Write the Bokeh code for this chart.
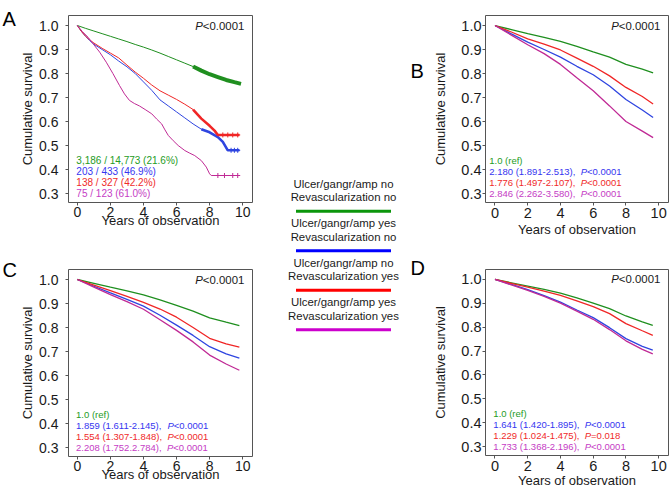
from bokeh.plotting import figure
from bokeh.layouts import row, column
from bokeh.models import FixedTicker, NumeralTickFormatter, ColumnDataSource, Range1d
from bokeh.core.properties import value
from bokeh.embed import file_html
from bokeh.resources import INLINE

FONT = "Liberation Sans"

# ---------------- data ----------------
PANEL_LETTERS = ["A", "B", "C", "D"]
LEGEND_LINE1 = ["Ulcer/gangr/amp no", "Ulcer/gangr/amp yes", "Ulcer/gangr/amp no", "Ulcer/gangr/amp yes"]
LEGEND_LINE2 = ["Revascularization no", "Revascularization no", "Revascularization yes", "Revascularization yes"]

X_TICKS = [0, 2, 4, 6, 8, 10]
Y_TICKS = [0.3, 0.4, 0.5, 0.6, 0.7, 0.8, 0.9, 1.0]
X_LABEL = "Years of observation"
Y_LABEL = "Cumulative survival"
P_OVERALL = "<0.0001"

# Panel A (Kaplan-Meier)
A_green_t = [0, 0.5, 1, 1.5, 2, 2.5, 3, 3.5, 4, 4.5, 5, 5.5, 6, 6.5, 7, 7.5, 8, 8.5, 9, 9.5, 9.9]
A_green_s = [1.0, 0.988, 0.977, 0.966, 0.955, 0.944, 0.933, 0.921, 0.91, 0.898, 0.885, 0.871, 0.857,
             0.843, 0.829, 0.812, 0.797, 0.785, 0.773, 0.764, 0.757]
A_blue_t = [0, 0.25, 0.5, 0.75, 1.0, 1.5, 2.0, 2.5, 3.0, 3.5, 4.0, 4.5, 5.0, 5.5, 6.0, 6.5, 7.0, 7.5,
            8.0, 8.5, 8.8, 9.1, 9.8]
A_blue_s = [1.0, 0.975, 0.955, 0.937, 0.922, 0.9, 0.878, 0.852, 0.828, 0.8, 0.765, 0.73, 0.69, 0.665,
            0.64, 0.615, 0.59, 0.568, 0.555, 0.535, 0.515, 0.48, 0.48]
A_red_t = [0, 0.25, 0.5, 0.75, 1.0, 1.5, 2.0, 2.5, 3.0, 3.5, 4.0, 4.5, 5.0, 5.5, 6.0, 6.5, 7.0, 7.5,
           8.0, 8.3, 8.5, 9.8]
A_red_s = [1.0, 0.975, 0.955, 0.94, 0.927, 0.905, 0.885, 0.865, 0.835, 0.806, 0.78, 0.752, 0.728,
           0.71, 0.692, 0.672, 0.65, 0.612, 0.582, 0.562, 0.544, 0.544]
A_mag_t = [0, 0.3, 0.65, 0.95, 1.35, 1.75, 2.15, 2.55, 2.85, 3.15, 3.45, 3.75, 4.1, 4.5, 4.8, 5.1,
           5.3, 5.5, 5.8, 6.1, 6.5, 6.8, 7.1, 7.5, 7.8, 8.0, 8.1, 9.8]
A_mag_s = [1.0, 0.975, 0.951, 0.924, 0.889, 0.847, 0.8, 0.75, 0.715, 0.688, 0.675, 0.665, 0.65,
           0.632, 0.61, 0.59, 0.565, 0.542, 0.52, 0.5, 0.479, 0.468, 0.458, 0.437, 0.41, 0.382,
           0.375, 0.375]
A_censor_t = {"blue": [9.3, 9.5, 9.7], "red": [8.8, 9.1, 9.4, 9.7], "mag": [8.5, 8.9, 9.4, 9.7]}
A_notes = ["3,186 / 14,773 (21.6%)", "203 / 433 (46.9%)", "138 / 327 (42.2%)", "75 / 123 (61.0%)"]

# Panel B (adjusted)
B_t = [0, 1, 2, 3, 4, 5, 6, 7, 8, 9, 9.66]
B_green = [1.0, 0.983, 0.966, 0.951, 0.934, 0.913, 0.89, 0.868, 0.838, 0.818, 0.803]
B_blue = [1.0, 0.965, 0.931, 0.9, 0.868, 0.83, 0.795, 0.748, 0.692, 0.648, 0.617]
B_red = [1.0, 0.973, 0.944, 0.922, 0.898, 0.864, 0.83, 0.79, 0.742, 0.704, 0.673]
B_mag = [1.0, 0.96, 0.92, 0.883, 0.838, 0.782, 0.728, 0.665, 0.6, 0.56, 0.533]
B_notes = ["1.0 (ref)", "2.180 (1.891-2.513),", "1.776 (1.497-2.107),", "2.846 (2.262-3.580),"]
B_pvals = [None, "<0.0001", "<0.0001", "<0.0001"]

# Panel C
C_t = [0, 1, 2, 3, 4, 5, 6, 7, 8, 9, 9.8]
C_green = [1.0, 0.984, 0.968, 0.953, 0.936, 0.915, 0.892, 0.868, 0.84, 0.822, 0.808]
C_blue = [1.0, 0.972, 0.944, 0.917, 0.889, 0.851, 0.81, 0.767, 0.72, 0.69, 0.672]
C_red = [1.0, 0.977, 0.954, 0.93, 0.905, 0.877, 0.843, 0.8, 0.755, 0.732, 0.718]
C_mag = [1.0, 0.968, 0.937, 0.908, 0.876, 0.832, 0.788, 0.74, 0.685, 0.648, 0.622]
C_notes = ["1.0 (ref)", "1.859 (1.611-2.145),", "1.554 (1.307-1.848),", "2.208 (1.752.2.784),"]
C_pvals = [None, "<0.0001", "<0.0001", "<0.0001"]

# Panel D
D_t = [0, 1, 2, 3, 4, 5, 6, 7, 8, 9, 9.64]
D_green = [1.0, 0.986, 0.972, 0.958, 0.943, 0.923, 0.901, 0.878, 0.847, 0.822, 0.808]
D_blue = [1.0, 0.979, 0.957, 0.932, 0.905, 0.872, 0.84, 0.798, 0.752, 0.72, 0.704]
D_red = [1.0, 0.984, 0.968, 0.951, 0.933, 0.91, 0.886, 0.857, 0.815, 0.785, 0.766]
D_mag = [1.0, 0.977, 0.954, 0.929, 0.901, 0.867, 0.833, 0.79, 0.743, 0.707, 0.688]
D_notes = ["1.0 (ref)", "1.641 (1.420-1.895),", "1.229 (1.024-1.475),", "1.733 (1.368-2.196),"]
D_pvals = [None, "<0.0001", "=0.018", "<0.0001"]

# ---------------- style ----------------
CURVE = {"green": "#1f8f1f", "blue": "#2f45e0", "red": "#f02626", "mag": "#c02a95"}
TEXTC = ["#259b25", "#3636f0", "#f02a2a", "#c53cc5"]
LEGC = ["#0b960b", "#0000ff", "#ff0000", "#cc00cc"]
FRAME = "#555555"
INK = "#1a1a1a"

AW = {**{d: 556 for d in "0123456789"}, ".": 278, ",": 278, " ": 278, "(": 333, ")": 333,
      "-": 333, "<": 584, "=": 584, "P": 667, "r": 333, "e": 556, "f": 278}


def tw(s, size):
    return sum(AW.get(c, 556) for c in s) * size / 1000.0


Y0, Y1 = 0.2625, 1.0417


def blank(w, h):
    f = figure(width=w, height=h, x_range=Range1d(0, w), y_range=Range1d(h, 0),
               output_backend="svg", toolbar_location=None,
               min_border_left=0, min_border_right=0, min_border_top=0, min_border_bottom=0)
    f.axis.visible = False
    f.grid.visible = False
    f.outline_line_color = None
    return f


def base_panel(g):
    p = figure(width=g["w"], height=g["h"], x_range=Range1d(*g["xr"]), y_range=Range1d(Y0, Y1),
               output_backend="svg", toolbar_location=None,
               min_border_left=g["l"], min_border_right=g["r"],
               min_border_top=g["t"], min_border_bottom=g["b"])
    p.xgrid.visible = False
    p.ygrid.visible = False
    p.outline_line_color = FRAME
    p.outline_line_width = 1
    p.xaxis.ticker = FixedTicker(ticks=X_TICKS)
    p.yaxis.ticker = FixedTicker(ticks=Y_TICKS)
    p.yaxis.formatter = NumeralTickFormatter(format="0.0")
    for ax in (p.xaxis[0], p.yaxis[0]):
        ax.axis_line_color = None
        ax.major_tick_line_color = FRAME
        ax.major_tick_out = 3
        ax.major_tick_in = 0
        ax.minor_tick_line_color = None
        ax.major_label_text_font = FONT
        ax.major_label_text_font_size = g["tick"]
        ax.major_label_text_color = INK
        ax.axis_label_text_font = FONT
        ax.axis_label_text_font_size = "13px"
        ax.axis_label_text_font_style = "normal"
        ax.axis_label_text_color = INK
    p.xaxis.axis_label = X_LABEL
    p.yaxis.axis_label = Y_LABEL
    p.yaxis.major_label_standoff = g["ys"]
    p.yaxis.axis_label_standoff = g["yls"]
    p.xaxis.major_label_standoff = g["xs"]
    p.xaxis.axis_label_standoff = g["xls"]
    # overall P value, top-right
    p.text(x=[10.1], y=[1.0], text=[P_OVERALL], text_font=value(FONT), text_font_size="11.4px",
           text_align="right", text_baseline="middle", text_color=INK)
    p.text(x=[10.1], y=[1.0], text=["P"], text_font=value(FONT), text_font_size="11.4px",
           text_font_style="italic", text_align="right", text_baseline="middle", text_color=INK,
           x_offset=-tw(P_OVERALL, 11.4))
    return p


def add_notes(p, notes, pvals, x0, fs=9.5, step=0.0462):
    ys = [0.30 + step * (3 - i) for i in range(4)]
    src = ColumnDataSource(dict(x=[x0] * 4, y=ys, text=notes, color=TEXTC))
    p.text(x="x", y="y", text="text", text_color="color", source=src, text_font=value(FONT),
           text_font_size=f"{fs}px", text_baseline="middle", text_align="left")
    if pvals is None:
        return
    rows = [i for i, pv in enumerate(pvals) if pv]
    off = [tw(notes[i] + "  ", fs) for i in rows]
    s1 = ColumnDataSource(dict(x=[x0] * len(rows), y=[ys[i] for i in rows], text=["P"] * len(rows),
                               color=[TEXTC[i] for i in rows], off=off))
    p.text(x="x", y="y", text="text", text_color="color", source=s1, x_offset="off",
           text_font=value(FONT), text_font_size=f"{fs}px", text_font_style="italic",
           text_baseline="middle", text_align="left")
    s2 = ColumnDataSource(dict(x=[x0] * len(rows), y=[ys[i] for i in rows], text=[pvals[i] for i in rows],
                               color=[TEXTC[i] for i in rows], off=[o + tw("P", fs) for o in off]))
    p.text(x="x", y="y", text="text", text_color="color", source=s2, x_offset="off",
           text_font=value(FONT), text_font_size=f"{fs}px",
           text_baseline="middle", text_align="left")


GA = dict(w=248, h=240, l=48, r=13, t=15, b=38, xr=(-0.536, 10.595), tick="14px", ys=7, yls=1,
          xs=1, xls=-7)
GC = dict(GA, h=250, t=29, b=34)
GB = dict(w=239, h=240, l=51, r=1, t=15, b=38, xr=(-0.58, 10.6), tick="14.5px", ys=1, yls=10,
          xs=2, xls=1)
GD = dict(GB, h=250, t=29, b=34, xls=-1)

# ---- Panel A ----
pa = base_panel(GA)
thick_from = {"green": 6.8, "red": 7.0, "blue": 7.4}
for key, t, s in [("green", A_green_t, A_green_s), ("blue", A_blue_t, A_blue_s),
                  ("red", A_red_t, A_red_s), ("mag", A_mag_t, A_mag_s)]:
    pa.line(t, s, line_color=CURVE[key], line_width=1.0)
    if key in thick_from:
        tt = [a for a in t if a >= thick_from[key]]
        ss = [b for a, b in zip(t, s) if a >= thick_from[key]]
        pa.line(tt, ss, line_color=CURVE[key], line_width=4 if key == "green" else 2.6)
    if key in A_censor_t:
        ct = A_censor_t[key]
        pa.scatter(ct, [s[-1]] * len(ct), marker="cross", size=5, line_color=CURVE[key], line_width=1)
add_notes(pa, A_notes, None, -0.06, fs=10)

# ---- Panel B ----
pb = base_panel(GB)
for key, s in [("green", B_green), ("blue", B_blue), ("red", B_red), ("mag", B_mag)]:
    pb.line(B_t, s, line_color=CURVE[key], line_width=1.3)
add_notes(pb, B_notes, B_pvals, -0.35)

# ---- Panel C ----
pc = base_panel(GC)
for key, s in [("green", C_green), ("blue", C_blue), ("red", C_red), ("mag", C_mag)]:
    pc.line(C_t, s, line_color=CURVE[key], line_width=1.3)
add_notes(pc, C_notes, C_pvals, -0.08)

# ---- Panel D ----
pd_ = base_panel(GD)
for key, s in [("green", D_green), ("blue", D_blue), ("red", D_red), ("mag", D_mag)]:
    pd_.line(D_t, s, line_color=CURVE[key], line_width=1.3)
add_notes(pd_, D_notes, D_pvals, -0.1)

# ---- left strip with panel letters A, C ----
LETTER_FS = "20px"
pleft = blank(17, 490)
pleft.text(x=[2, 2], y=[18.3, 269], text=[PANEL_LETTERS[0], PANEL_LETTERS[2]], text_font=value(FONT),
           text_font_size=LETTER_FS, text_baseline="alphabetic", text_align="left", text_color="black")

# ---- centre: legend + panel letters B, D ----
pl = blank(165, 490)
pl.text(x=[145, 145], y=[70, 267], text=[PANEL_LETTERS[1], PANEL_LETTERS[3]], text_font=value(FONT),
        text_font_size=LETTER_FS, text_baseline="alphabetic", text_align="left", text_color="black")
STEP = 39.5
cx = 78
y1 = [183 + STEP * i for i in range(4)]
y2 = [196.5 + STEP * i for i in range(4)]
yl = [210.8 + STEP * i for i in range(4)]
pl.text(x=[cx] * 4, y=y1, text=LEGEND_LINE1, text_font=value(FONT), text_font_size="11.4px",
        text_align="center", text_baseline="middle", text_color=INK)
pl.text(x=[cx] * 4, y=y2, text=LEGEND_LINE2, text_font=value(FONT), text_font_size="11.4px",
        text_align="center", text_baseline="middle", text_color=INK)
pl.segment(x0=[cx - 47.5] * 4, x1=[cx + 47.5] * 4, y0=yl, y1=yl, line_color=LEGC, line_width=3)

layout = row(pleft, column(pa, pc), pl, column(pb, pd_))
open("out.html", "w").write(file_html(layout, INLINE))
